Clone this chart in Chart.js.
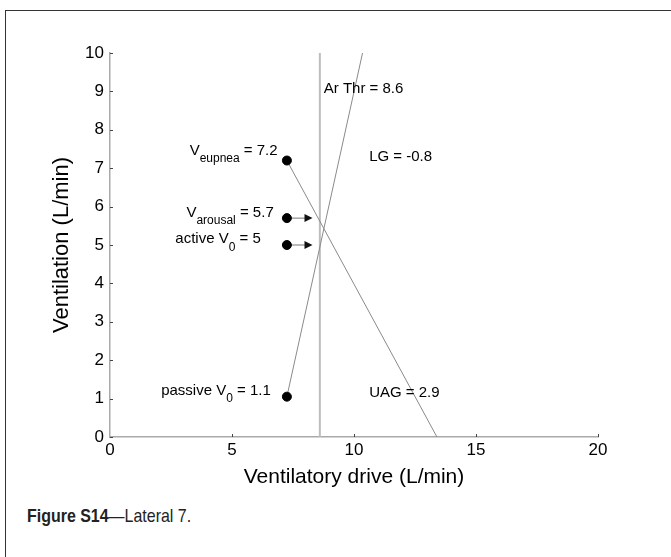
<!DOCTYPE html>
<html>
<head>
<meta charset="utf-8">
<script src="https://cdn.jsdelivr.net/npm/chart.js@4.4.0/dist/chart.umd.min.js"></script>
<style>
    html, body { margin: 0; padding: 0; background: #fff; }
    body { width: 671px; height: 557px; position: relative; overflow: hidden; font-family: "Liberation Sans", Arial, sans-serif; }
    .frame { position: absolute; left: 5px; top: 10px; width: 700px; height: 600px; border-top: 1.5px solid #333; border-left: 1.5px solid #333; }
    .wrap { position: absolute; left: 0; top: 0; width: 671px; height: 500px; }
    .caption { position: absolute; left: 27px; top: 505px; font-family: "Liberation Sans Narrow", "Liberation Sans", Arial, sans-serif; font-size: 19px; color: #222; transform: scaleX(0.84); transform-origin: left center; white-space: nowrap; }
    .caption b { font-weight: bold; }
</style>
</head>
<body>
<div class="frame"></div>
<div class="wrap"><canvas id="grafico" width="671" height="500"></canvas></div>
<div class="caption"><b>Figure S14</b>—Lateral 7.</div>

<script>
// axis ticks
const xTicks = [0, 5, 10, 15, 20];
const yTicks = [0, 1, 2, 3, 4, 5, 6, 7, 8, 9, 10];

// marked points (eupnea, arousal, active V0, passive V0)
const pointX = [7.25, 7.25, 7.25, 7.25];
const pointY = [7.2, 5.7, 5.0, 1.05];

// arousal threshold line
const arThrX = [8.6, 8.6];
const arThrY = [0, 10];

// upper airway gain line
const uagX = [7.25, 10.35];
const uagY = [1.05, 10];

// loop gain line
const lgX = [7.25, 13.4];
const lgY = [7.2, 0];

// arrows from the arousal / active V0 points
const arrowFromX = 7.25;
const arrowShaftX = 8.05;
const arrowToX = 8.3;
const arrowY = [5.7, 5.0];

// labels left of the points
const leftMain = ['V', 'V', 'active V', 'passive V'];
const leftSub = ['eupnea', 'arousal', '0', '0'];
const leftRest = [' = 7.2', ' = 5.7', ' = 5', ' = 1.1'];
const leftAtX = [6.87, 6.71, 6.18, 6.59];
const leftAtY = [7.45, 5.85, 5.15, 1.2];

// labels on the right
const rightText = ['Ar Thr = 8.6', 'LG = -0.8', 'UAG = 2.9'];
const rightAtX = [8.76, 10.62, 10.62];
const rightAtY = [9.06, 7.3, 1.14];

const toXY = (xs, ys) => xs.map((x, i) => ({ x: x, y: ys[i] }));

const ctx = document.getElementById('grafico').getContext('2d');

const annotations = {
    id: 'annotations',
    afterDatasetsDraw(chart) {
        const c = chart.ctx;
        const sx = chart.scales.x;
        const sy = chart.scales.y;
        c.save();

        // arrow heads
        c.fillStyle = '#111';
        arrowY.forEach(v => {
            const tipX = sx.getPixelForValue(arrowToX);
            const py = sy.getPixelForValue(v);
            c.beginPath();
            c.moveTo(tipX, py);
            c.lineTo(tipX - 8, py - 4);
            c.lineTo(tipX - 8, py + 4);
            c.closePath();
            c.fill();
        });

        // inward tick marks
        c.strokeStyle = '#444';
        c.lineWidth = 1;
        xTicks.forEach(v => {
            if (v === 0) return;
            const px = Math.round(sx.getPixelForValue(v)) + 0.5;
            c.beginPath();
            c.moveTo(px, sy.bottom);
            c.lineTo(px, sy.bottom - 3);
            c.stroke();
        });
        yTicks.forEach(v => {
            const py = Math.round(sy.getPixelForValue(v)) + 0.5;
            c.beginPath();
            c.moveTo(sx.left, py);
            c.lineTo(sx.left + 3, py);
            c.stroke();
        });

        // text labels
        c.fillStyle = '#000';
        c.textBaseline = 'middle';
        const mainFont = '15px "Liberation Sans", Arial, sans-serif';
        const subFont = '12px "Liberation Sans", Arial, sans-serif';
        leftMain.forEach((m, i) => {
            c.font = mainFont;
            const wMain = c.measureText(m).width;
            const wRest = c.measureText(leftRest[i]).width;
            c.font = subFont;
            const wSub = c.measureText(leftSub[i]).width;
            const right = sx.getPixelForValue(leftAtX[i]);
            const py = sy.getPixelForValue(leftAtY[i]);
            const x0 = right - wMain - wSub - wRest;
            c.textAlign = 'left';
            c.font = mainFont;
            c.fillText(m, x0, py);
            c.font = subFont;
            c.fillText(leftSub[i], x0 + wMain, py + 8);
            c.font = mainFont;
            c.fillText(leftRest[i], x0 + wMain + wSub, py);
        });
        c.font = mainFont;
        c.textAlign = 'left';
        rightText.forEach((t, i) => {
            c.fillText(t, sx.getPixelForValue(rightAtX[i]), sy.getPixelForValue(rightAtY[i]));
        });
        c.restore();
    }
};

const data = {
    datasets: [
        {
            label: 'points',
            data: toXY(pointX, pointY),
            backgroundColor: '#000',
            borderColor: '#000',
            pointRadius: 4.5,
            showLine: false
        },
        {
            label: 'arrow 1',
            data: toXY([arrowFromX, arrowShaftX], [arrowY[0], arrowY[0]]),
            borderColor: '#777',
            borderWidth: 1,
            pointRadius: 0,
            showLine: true
        },
        {
            label: 'arrow 2',
            data: toXY([arrowFromX, arrowShaftX], [arrowY[1], arrowY[1]]),
            borderColor: '#777',
            borderWidth: 1,
            pointRadius: 0,
            showLine: true
        },
        {
            label: 'LG',
            data: toXY(lgX, lgY),
            borderColor: '#8a8a8a',
            borderWidth: 1,
            pointRadius: 0,
            showLine: true
        },
        {
            label: 'UAG',
            data: toXY(uagX, uagY),
            borderColor: '#8a8a8a',
            borderWidth: 1,
            pointRadius: 0,
            showLine: true
        },
        {
            label: 'Ar Thr',
            data: toXY(arThrX, arThrY),
            borderColor: '#bdbdbd',
            borderWidth: 2,
            pointRadius: 0,
            showLine: true
        }
    ]
};

const config = {
    type: 'scatter',
    data: data,
    plugins: [annotations],
    options: {
        responsive: false,
        animation: false,
        events: [],
        layout: { padding: { top: 53, right: 73, bottom: 0, left: 0 } },
        plugins: {
            legend: { display: false },
            tooltip: { enabled: false }
        },
        scales: {
            x: {
                type: 'linear',
                min: 0,
                max: 20,
                afterBuildTicks: s => { s.ticks = xTicks.map(v => ({ value: v })); },
                afterFit: s => { s.height = 63; },
                grid: { display: false, drawTicks: false },
                border: { display: true, color: '#aaa', width: 1.5 },
                ticks: { color: '#000', padding: 3, maxRotation: 0, font: { family: '"Liberation Sans", Arial, sans-serif', size: 17 } },
                title: {
                    display: true,
                    text: 'Ventilatory drive (L/min)',
                    color: '#000',
                    padding: { top: 0, bottom: 10 },
                    font: { family: '"Liberation Sans", Arial, sans-serif', size: 21 }
                }
            },
            y: {
                type: 'linear',
                min: 0,
                max: 10,
                afterBuildTicks: s => { s.ticks = yTicks.map(v => ({ value: v })); },
                afterFit: s => { s.width = 110; },
                grid: { display: false, drawTicks: false },
                border: { display: true, color: '#aaa', width: 1.5 },
                ticks: { color: '#000', padding: 6, font: { family: '"Liberation Sans", Arial, sans-serif', size: 17 } },
                title: {
                    display: true,
                    text: 'Ventilation (L/min)',
                    color: '#000',
                    padding: { top: 49, bottom: 0 },
                    font: { family: '"Liberation Sans", Arial, sans-serif', size: 22 }
                }
            }
        }
    }
};

new Chart(ctx, config);
</script>
</body>
</html>
